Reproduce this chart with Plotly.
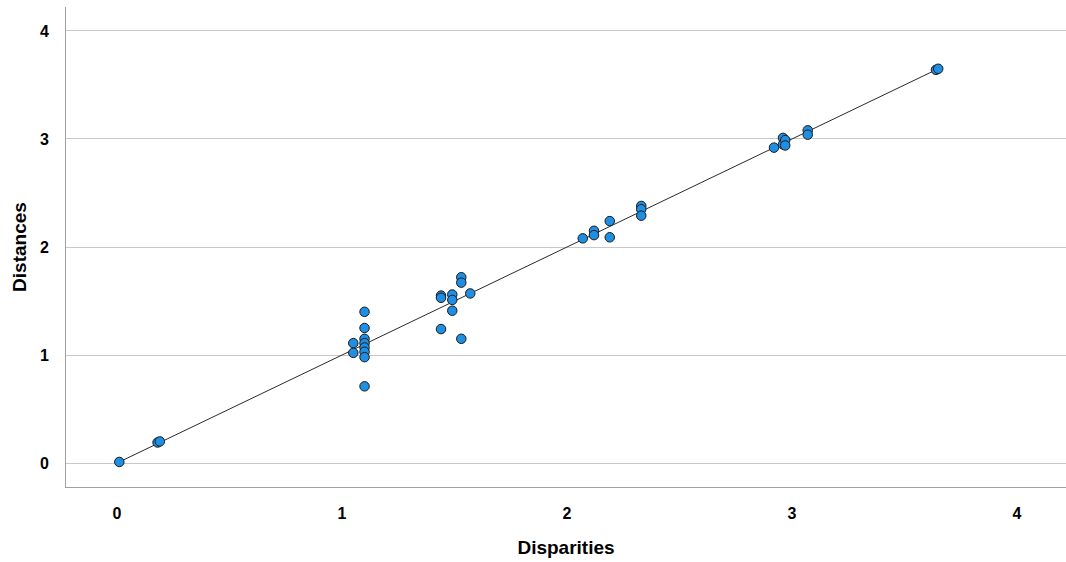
import plotly.graph_objects as go

# Disparities (x) and Distances (y)
disparities = [0.01, 0.18, 0.19,
               1.05, 1.05,
               1.10, 1.10, 1.10, 1.10, 1.10, 1.10, 1.10, 1.10,
               1.44, 1.44, 1.44, 1.49, 1.49, 1.49, 1.53, 1.53, 1.53, 1.57,
               2.07, 2.12, 2.12, 2.19, 2.19, 2.33, 2.33, 2.33,
               2.92, 2.96, 2.96, 2.97, 2.97, 3.07, 3.07,
               3.64, 3.65]
distances = [0.01, 0.19, 0.20,
             1.11, 1.02,
             1.40, 1.25, 1.15, 1.11, 1.07, 1.03, 0.98, 0.71,
             1.55, 1.53, 1.24, 1.56, 1.51, 1.41, 1.72, 1.67, 1.15, 1.57,
             2.08, 2.15, 2.11, 2.24, 2.09, 2.38, 2.35, 2.29,
             2.92, 3.01, 2.95, 2.99, 2.94, 3.08, 3.04,
             3.64, 3.65]

ticks = [0, 1, 2, 3, 4]
tick_labels = ["0", "1", "2", "3", "4"]

lo = min(disparities)
hi = max(disparities)

fig = go.Figure()
fig.add_trace(go.Scatter(
    x=[lo, hi], y=[lo, hi], mode="lines",
    line=dict(color="#2a2a2a", width=1), hoverinfo="skip", showlegend=False))
fig.add_trace(go.Scatter(
    x=disparities, y=distances, mode="markers",
    marker=dict(size=9.5, color="#1f8fe3", line=dict(color="#1a1a1a", width=1)),
    showlegend=False))

tickfont = dict(family="Liberation Sans, Arial", size=16, color="#000000", weight="bold")
titlefont = dict(family="Liberation Sans, Arial", size=19, color="#000000", weight="bold")

fig.update_layout(
    width=1066, height=562,
    margin=dict(l=66, r=0, t=7, b=75),
    paper_bgcolor="white", plot_bgcolor="white",
    xaxis=dict(range=[-0.227, 4.218], tickvals=ticks, ticktext=tick_labels,
               showgrid=False, zeroline=False, showline=True, linecolor="#a0a0a0",
               linewidth=1, ticks="", tickfont=tickfont, ticklabelstandoff=12,
               automargin=False,
               title=dict(text="Disparities", font=titlefont, standoff=19)),
    yaxis=dict(range=[-0.222, 4.222], tickvals=ticks, ticktext=tick_labels,
               showgrid=True, gridcolor="#c8c8c8", gridwidth=1, zeroline=False,
               showline=True, linecolor="#a0a0a0", linewidth=1, ticks="",
               tickfont=tickfont, ticklabelstandoff=13, automargin=False,
               title=dict(text="Distances", font=titlefont, standoff=8)),
)

fig.write_html("out.html", config={"displayModeBar": False},
               post_script="document.body.style.margin='0';document.body.style.overflow='hidden';")
